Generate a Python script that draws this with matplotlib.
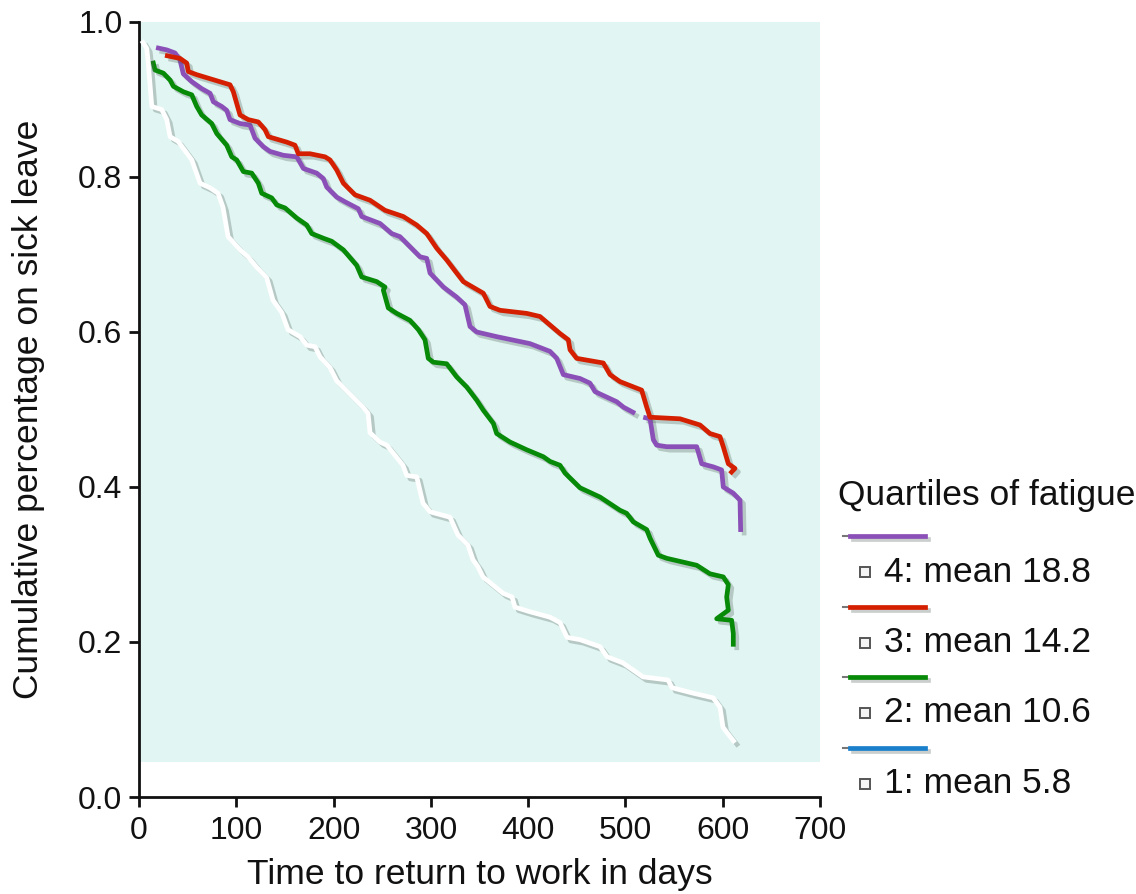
import numpy as np
import matplotlib.pyplot as plt
import matplotlib.patheffects as pe
from matplotlib.lines import Line2D

plt.rcParams['font.family'] = ['Liberation Sans', 'DejaVu Sans']

# curves (days, fraction still on sick leave)
q4_days = [17.5, 28.5, 37.0, 42.1, 45.5, 54.2, 64.4, 73.0, 76.4, 85.0, 90.1, 93.5, 103.8, 114.1,
           119.2, 127.8, 134.6, 148.3, 162.1, 168.9, 182.6, 189.4, 192.9, 203.2, 211.7, 225.4,
           228.9, 247.7, 259.7, 268.2, 278.5, 288.8, 295.7, 299.1, 312.8, 326.5, 335.0, 340.2,
           347.1, 367.6, 401.8, 422.4, 429.3, 436.1, 453.2, 463.5, 468.7, 480.7, 491.0, 497.9,
           509.8, np.nan, 518.3, 525.2, 528.6, 532.0, 542.3, 573.2, 578.3, 590.2, 598.8, 600.5,
           610.8, 617.7, 618.4]
q4_frac = [0.967, 0.964, 0.960, 0.951, 0.933, 0.923, 0.914, 0.908, 0.897, 0.891, 0.886, 0.874,
           0.869, 0.867, 0.850, 0.839, 0.833, 0.828, 0.826, 0.811, 0.805, 0.798, 0.787, 0.774,
           0.768, 0.759, 0.749, 0.740, 0.727, 0.723, 0.710, 0.697, 0.695, 0.676, 0.658, 0.645,
           0.635, 0.607, 0.600, 0.594, 0.585, 0.575, 0.566, 0.545, 0.540, 0.534, 0.523, 0.516,
           0.510, 0.503, 0.495, np.nan, 0.490, 0.488, 0.461, 0.454, 0.452, 0.452, 0.430, 0.426,
           0.422, 0.400, 0.392, 0.383, 0.342]

q3_days = [26.7, 42.1, 49.0, 50.7, 59.3, 93.5, 96.9, 103.8, 112.3, 122.6, 129.5, 132.9, 151.8,
           160.3, 163.7, 175.7, 191.2, 196.3, 203.2, 210.0, 222.0, 237.4, 252.8, 271.6, 285.4,
           295.7, 306.0, 316.2, 326.5, 333.3, 353.9, 360.7, 371.0, 398.5, 412.1, 422.4, 432.7,
           441.2, 443.0, 449.8, 477.2, 484.1, 494.3, 516.6, 521.8, 525.2, 556.0, 576.6, 586.8,
           597.1, 600.5, 605.7, 612.5, 607.4]
q3_frac = [0.957, 0.953, 0.947, 0.936, 0.932, 0.919, 0.910, 0.880, 0.874, 0.871, 0.861, 0.852,
           0.845, 0.841, 0.830, 0.830, 0.826, 0.822, 0.809, 0.792, 0.777, 0.770, 0.757, 0.749,
           0.738, 0.727, 0.708, 0.693, 0.676, 0.665, 0.650, 0.633, 0.628, 0.624, 0.620, 0.609,
           0.598, 0.590, 0.577, 0.566, 0.560, 0.545, 0.536, 0.525, 0.503, 0.490, 0.488, 0.480,
           0.469, 0.465, 0.452, 0.430, 0.424, 0.417]

q2_days = [14.1, 16.4, 25.0, 31.9, 35.3, 45.5, 54.2, 59.3, 64.4, 74.7, 79.9, 90.1, 95.3, 100.4,
           107.2, 115.8, 122.6, 126.1, 136.4, 141.5, 150.1, 162.1, 172.4, 177.5, 189.4, 198.1,
           210.0, 223.7, 228.9, 244.3, 252.8, 251.1, 256.2, 264.9, 278.5, 287.1, 293.9, 297.3,
           302.5, 316.2, 326.5, 336.8, 347.1, 353.9, 364.2, 367.6, 381.3, 398.5, 415.6, 422.4,
           432.7, 437.8, 453.2, 473.8, 494.3, 501.2, 508.0, 521.8, 525.2, 533.7, 542.3, 573.2,
           586.8, 600.5, 605.7, 604.0, 605.7, 593.7, 609.1, 610.8, 610.8]
q2_frac = [0.950, 0.938, 0.934, 0.925, 0.917, 0.910, 0.906, 0.891, 0.880, 0.869, 0.856, 0.841,
           0.826, 0.822, 0.807, 0.805, 0.792, 0.779, 0.773, 0.764, 0.760, 0.747, 0.738, 0.727,
           0.721, 0.717, 0.706, 0.686, 0.671, 0.665, 0.658, 0.654, 0.631, 0.624, 0.615, 0.603,
           0.590, 0.566, 0.561, 0.559, 0.542, 0.529, 0.512, 0.499, 0.482, 0.469, 0.458, 0.448,
           0.439, 0.433, 0.428, 0.418, 0.399, 0.387, 0.370, 0.366, 0.355, 0.345, 0.334, 0.312,
           0.308, 0.299, 0.288, 0.284, 0.274, 0.258, 0.241, 0.230, 0.228, 0.211, 0.194]

q1_days = [2.8, 7.9, 9.2, 13.1, 23.3, 28.5, 31.9, 40.1, 49.0, 54.2, 62.7, 73.0, 81.2, 86.3, 91.5,
           103.8, 112.0, 121.3, 131.2, 137.7, 146.7, 153.1, 165.5, 172.4, 180.9, 186.0, 196.3,
           203.2, 230.2, 235.4, 237.4, 247.7, 254.6, 271.3, 275.1, 285.4, 291.9, 299.1, 319.6,
           327.8, 338.1, 343.3, 348.4, 353.5, 374.1, 383.4, 386.4, 401.8, 422.4, 432.7, 439.9,
           453.2, 473.8, 481.0, 497.4, 518.0, 543.7, 547.8, 569.4, 590.0, 597.1, 600.2, 604.3,
           612.5]
q1_frac = [0.976, 0.966, 0.951, 0.891, 0.887, 0.874, 0.852, 0.846, 0.831, 0.822, 0.792, 0.786,
           0.779, 0.761, 0.723, 0.706, 0.697, 0.683, 0.670, 0.641, 0.625, 0.603, 0.594, 0.583,
           0.581, 0.568, 0.554, 0.537, 0.503, 0.495, 0.470, 0.458, 0.454, 0.428, 0.415, 0.413,
           0.379, 0.368, 0.361, 0.338, 0.325, 0.306, 0.297, 0.284, 0.263, 0.258, 0.245, 0.239,
           0.232, 0.225, 0.206, 0.203, 0.194, 0.181, 0.173, 0.155, 0.151, 0.141, 0.134, 0.128,
           0.116, 0.090, 0.083, 0.070]

labels = ['4: mean 18.8', '3: mean 14.2', '2: mean 10.6', '1: mean 5.8']
line_colors = ['#8b4fb8', '#d42000', '#078a07', '#ffffff']
legend_colors = ['#8b4fb8', '#d42000', '#078a07', '#1a80cc']
series = [(q4_days, q4_frac), (q3_days, q3_frac), (q2_days, q2_frac), (q1_days, q1_frac)]

fig = plt.figure(figsize=(11.36, 8.94), dpi=100)
ax = fig.add_axes([0.1224, 0.1085, 0.5995, 0.8669])

ax.axhspan(0.045, 1.0, color='#e1f6f2', zorder=0, lw=0)

shadow = [pe.SimpleLineShadow(offset=(2.5, -2.5), shadow_color='#50605c', alpha=0.3), pe.Normal()]
for (d, f), c in zip(series, line_colors):
    ax.plot(d, f, color=c, lw=3.4, solid_joinstyle='round', solid_capstyle='butt',
            path_effects=shadow, zorder=3)

ax.set_xlim(0, 700)
ax.set_ylim(0, 1.0)
ax.set_xticks(range(0, 701, 100))
ax.set_yticks(np.arange(0, 1.01, 0.2))
ax.set_yticklabels([f'{v:.1f}' for v in np.arange(0, 1.01, 0.2)])
ax.margins(0)
for s in ['top', 'right']:
    ax.spines[s].set_visible(False)
for s in ['left', 'bottom']:
    ax.spines[s].set_linewidth(2)
    ax.spines[s].set_color('#111111')
ax.tick_params(direction='out', length=7, width=2, labelsize=23, colors='#111111', pad=5)
ax.tick_params(axis='x', pad=7)
ax.set_xlabel('Time to return to work in days', fontsize=25.5, color='#111111', labelpad=8)
ax.set_ylabel('Cumulative percentage on sick leave', fontsize=25.5, color='#111111', labelpad=24)
ax.set_facecolor('white')

# legend built by hand: line on one row, marker + label on the next
W, H = 1136, 894
fig.text(838 / W, 1 - 495 / H, 'Quartiles of fatigue', fontsize=25.5, color='#111111',
         ha='left', va='center')
for i, (lab, c) in enumerate(zip(labels, legend_colors)):
    ly = 536 + i * 70.5
    fig.add_artist(Line2D([843 / W, 850 / W], [1 - ly / H] * 2, color='#777777', lw=1.5))
    fig.add_artist(Line2D([850 / W, 925 / W], [1 - ly / H] * 2, color=c, lw=3.4,
                          path_effects=shadow))
    ty = ly + 36
    fig.add_artist(Line2D([865 / W], [1 - ty / H], marker='s', markersize=6.5, color='none',
                          markerfacecolor='#f4f4f4', markeredgecolor='#555555', markeredgewidth=1.4))
    fig.text(884 / W, 1 - ty / H, lab, fontsize=25.5, color='#111111', ha='left', va='center')

fig.savefig('out.png', dpi=100)
